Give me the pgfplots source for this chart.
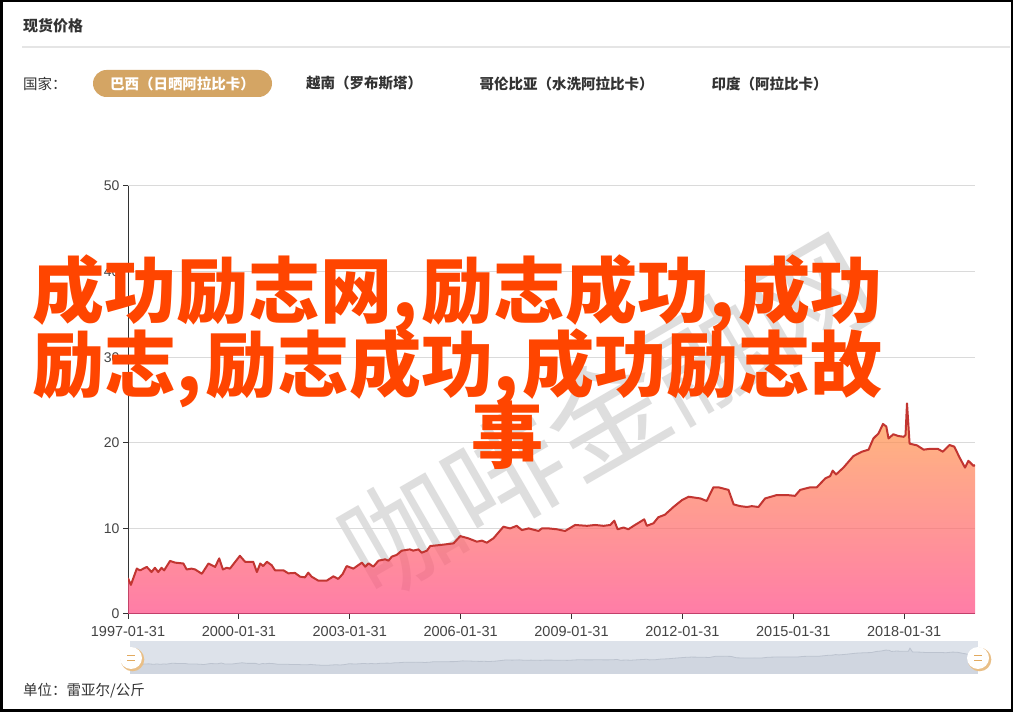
\documentclass[border=0pt]{standalone}
\usepackage{fontspec}
\setmainfont{Liberation Sans}
\newfontfamily\cjk{Noto Sans CJK SC}
\usepackage{pgfplots}
\pgfplotsset{compat=1.18}
\usepackage{pgfplotstable}
\definecolor{linered}{RGB}{194,53,49}
\definecolor{areatop}{RGB}{255,158,68}
\definecolor{areabot}{RGB}{255,70,131}
\definecolor{pill}{RGB}{212,165,100}
\definecolor{txt}{RGB}{51,51,51}
\definecolor{ticktxt}{RGB}{68,68,68}
\definecolor{gridc}{RGB}{218,218,218}
\definecolor{sepc}{RGB}{229,229,229}
\definecolor{sliderbg}{RGB}{221,226,234}
\definecolor{sliderfill}{RGB}{208,214,224}
\definecolor{sliderline}{RGB}{188,195,207}
\definecolor{handle}{RGB}{226,170,95}
\definecolor{redtext}{RGB}{255,69,0}
\definecolor{wm}{RGB}{222,222,222}

\pgfplotstableread{
x y
1997.08 4.2
1997.16 3.4
1997.32 5.3
1997.41 5.1
1997.50 5.3
1997.59 5.5
1997.72 4.9
1997.81 5.4
1997.90 4.9
1997.99 5.4
1998.06 5.1
1998.22 6.2
1998.36 6.0
1998.58 5.9
1998.67 5.2
1998.80 5.3
1998.90 5.2
1999.08 4.7
1999.26 5.9
1999.44 5.5
1999.55 6.5
1999.65 5.2
1999.75 5.4
1999.84 5.3
2000.11 6.8
2000.25 6.1
2000.47 6.1
2000.57 4.9
2000.66 5.9
2000.74 5.6
2000.84 6.1
2000.97 5.7
2001.06 5.1
2001.29 5.1
2001.42 4.75
2001.60 4.8
2001.74 4.36
2001.87 4.28
2001.96 4.83
2002.05 4.36
2002.23 3.9
2002.46 3.9
2002.64 4.4
2002.77 4.1
2002.89 4.67
2003.00 5.6
2003.18 5.3
2003.41 6.0
2003.50 5.53
2003.59 5.92
2003.72 5.53
2003.86 6.23
2004.04 6.39
2004.13 6.23
2004.22 6.7
2004.35 6.9
2004.49 7.4
2004.71 7.55
2004.80 7.4
2004.94 7.55
2005.03 7.16
2005.17 7.4
2005.26 7.94
2005.53 8.06
2005.89 8.25
2006.07 9.1
2006.29 8.84
2006.52 8.45
2006.66 8.57
2006.79 8.33
2006.97 8.84
2007.24 10.2
2007.42 10.0
2007.60 10.3
2007.74 9.8
2007.92 10.0
2008.19 9.7
2008.28 10.0
2008.46 10.0
2008.68 9.9
2008.91 9.7
2009.18 10.4
2009.50 10.3
2009.72 10.4
2009.95 10.3
2010.13 10.4
2010.24 10.9
2010.33 9.9
2010.49 10.1
2010.62 9.9
2010.80 10.4
2011.05 11.06
2011.12 10.3
2011.30 10.6
2011.43 11.3
2011.61 11.6
2011.84 12.5
2012.07 13.3
2012.25 13.7
2012.57 13.5
2012.74 13.2
2012.92 14.8
2013.06 14.8
2013.33 14.5
2013.47 12.8
2013.65 12.6
2013.83 12.5
2013.96 12.6
2014.14 12.5
2014.32 13.5
2014.64 13.9
2014.91 13.9
2015.13 13.8
2015.27 14.5
2015.54 14.8
2015.72 14.8
2015.95 15.85
2016.08 16.1
2016.15 16.75
2016.24 16.3
2016.44 17.1
2016.71 18.45
2016.94 18.96
2017.12 19.2
2017.25 20.5
2017.39 21.1
2017.51 22.2
2017.60 21.9
2017.66 20.5
2017.79 21.0
2017.92 20.8
2018.07 20.7
2018.12 20.9
2018.16 24.6
2018.23 19.9
2018.43 19.7
2018.61 19.2
2018.79 19.3
2018.99 19.3
2019.13 18.96
2019.31 19.74
2019.44 19.55
2019.58 18.3
2019.73 17.1
2019.82 17.9
2019.96 17.3
2020.00 17.4
}\pricedata

\begin{document}
\begin{tikzpicture}
\begin{scope}[x=1pt,y=1pt]
\useasboundingbox (0,0) rectangle (1013,712);
\fill[white] (0,0) rectangle (1013,712);

% header
\node[anchor=west,inner sep=0,text=txt] at (23,686) {\cjk\bfseries\fontsize{15}{15}\selectfont 现货价格};
\draw[sepc, line width=2] (22,665) -- (1010,665);

% country tabs
\node[anchor=west,inner sep=0,text=txt] at (23,628) {\cjk\fontsize{14.5}{14.5}\selectfont 国家：};
\fill[pill, rounded corners=13.5] (93,615) rectangle (272,642);
\node[inner sep=0,text=white] at (182.5,628.5) {\cjk\bfseries\fontsize{14.5}{14.5}\selectfont 巴西（日晒阿拉比卡）};
\node[inner sep=0,text=txt] at (364,628.5) {\cjk\bfseries\fontsize{14.5}{14.5}\selectfont 越南（罗布斯塔）};
\node[inner sep=0,text=txt] at (566.5,628.5) {\cjk\bfseries\fontsize{14.5}{14.5}\selectfont 哥伦比亚（水洗阿拉比卡）};
\node[inner sep=0,text=txt] at (769.5,628.5) {\cjk\bfseries\fontsize{14.5}{14.5}\selectfont 印度（阿拉比卡）};

% watermark
\node[rotate=30, inner sep=0, text=wm] at (606,297) {\cjk\fontsize{118}{118}\selectfont 咖啡金融网};

% slider background
\fill[sliderbg] (130,38) rectangle (978,71);
\end{scope}

% main chart
\begin{axis}[
  at={(128pt,98pt)}, anchor=south west,
  scale only axis, width=847pt, height=428pt,
  xmin=1997.082, xmax=2020.0, ymin=0, ymax=50,
  axis x line*=bottom, axis y line*=left,
  axis line style={color=txt, line width=1pt, -},
  ytick={0,10,20,30,40,50},
  xtick={1997.082,2000.082,2003.082,2006.082,2009.082,2012.082,2015.082,2018.082},
  xticklabels={1997-01-31,2000-01-31,2003-01-31,2006-01-31,2009-01-31,2012-01-31,2015-01-31,2018-01-31},
  tick align=outside, major tick length=5pt,
  tick style={color=txt, line width=1pt},
  ymajorgrids, grid style={gridc, line width=1pt},
  /pgf/number format/assume math mode=true,
  yticklabel style={font=\fontsize{14}{14}\selectfont, text=ticktxt},
  xticklabel style={font=\fontsize{14.5}{14.5}\selectfont, text=ticktxt, yshift=-4pt},
]
\addplot[draw=none, fill opacity=0.7, top color=areatop, bottom color=areabot] table {\pricedata} \closedcycle;
\addplot[linered, line width=2pt, sharp plot, line join=round] table {\pricedata};
\end{axis}

% data zoom slider
\begin{axis}[
  at={(130pt,38pt)}, anchor=south west,
  scale only axis, width=848pt, height=33pt,
  xmin=1997.082, xmax=2020.0, ymin=-6.8, ymax=33.2,
  hide axis,
]
\fill[sliderfill] (axis cs:1997.082,-6.8) rectangle (axis cs:2020,0);
\addplot[draw=none, fill=sliderfill] table {\pricedata} \closedcycle;
\addplot[sliderline, line width=0.8pt] table {\pricedata};
\end{axis}

\begin{scope}[x=1pt,y=1pt]
\foreach \hx in {131,978} {
  \fill[handle!75] (\hx+1.5,52.5) circle (11.8);
  \fill[white] (\hx,54) circle (11);
  \draw[handle, line width=1.6] (\hx-4,56.5) -- (\hx+4,56.5) (\hx-4,51.5) -- (\hx+4,51.5);
}

% unit
\node[anchor=west,inner sep=0,text=txt] at (23,21) {\cjk\fontsize{14.5}{14.5}\selectfont 单位：雷亚尔/公斤};

% overlay red text
\node[anchor=base west, inner sep=0, text=redtext] at (32,394) {\cjk\bfseries\fontsize{72}{72}\selectfont 成功励志网,\hspace{4pt}励志成功,\hspace{4pt}成功};
\node[anchor=base west, inner sep=0, text=redtext] at (32,320) {\cjk\bfseries\fontsize{72}{72}\selectfont 励志,\hspace{4pt}励志成功,\hspace{4pt}成功励志故};
\node[anchor=base, inner sep=0, text=redtext] at (507,249) {\cjk\bfseries\fontsize{72}{72}\selectfont 事};

% frame
\draw[black, line width=2.5] (1.25,1.25) rectangle (1011.75,710.75);
\end{scope}
\end{tikzpicture}
\end{document}
